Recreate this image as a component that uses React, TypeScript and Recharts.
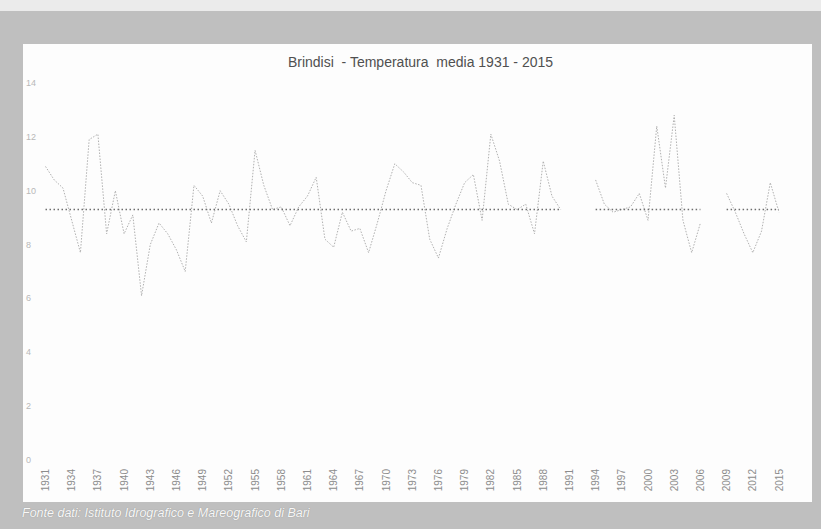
import React from "react";
import { LineChart, Line, XAxis, YAxis } from "recharts";

const years: number[] = [];
for (let y = 1931; y <= 2015; y++) years.push(y);

const temps: (number | null)[] = [
  10.9, 10.4, 10.1, 8.9, 7.7, 11.9, 12.1, 8.4, 10.0, 8.4,
  9.1, 6.1, 8.0, 8.8, 8.4, 7.8, 7.0, 10.2, 9.8, 8.8,
  10.0, 9.5, 8.7, 8.1, 11.5, 10.2, 9.3, 9.4, 8.7, 9.4,
  9.8, 10.5, 8.2, 7.9, 9.2, 8.5, 8.6, 7.7, 8.8, 10.0,
  11.0, 10.7, 10.3, 10.2, 8.2, 7.5, 8.6, 9.5, 10.3, 10.6,
  8.9, 12.1, 11.1, 9.5, 9.3, 9.5, 8.4, 11.1, 9.8, 9.3,
  null, null, null, 10.4, 9.5, 9.2, 9.3, 9.4, 9.9, 8.9,
  12.4, 10.1, 12.8, 8.9, 7.7, 8.8, null, null, 9.9, 9.2,
  8.4, 7.7, 8.5, 10.3, 9.2,
];

const meanValue = 9.3;
const yTicks = [0, 2, 4, 6, 8, 10, 12, 14];

const data = years.map((y, i) => ({
  year: String(y),
  temp: temps[i],
  mean: temps[i] == null ? null : meanValue,
}));

const XTick = (props: any) => {
  const { x, payload } = props;
  return (
    <text
      x={x}
      y={469}
      transform={`rotate(-90, ${x}, 469)`}
      textAnchor="end"
      dominantBaseline="central"
      fontSize={10}
      fill="#8c8c8c"
      fontFamily="Liberation Sans, Arial, sans-serif"
    >
      {payload.value}
    </text>
  );
};

const YTick = (props: any) => {
  const { y, payload } = props;
  return (
    <text
      x={26}
      y={y}
      textAnchor="start"
      dominantBaseline="central"
      fontSize={9}
      fill="#b8b8b8"
      fontFamily="Liberation Sans, Arial, sans-serif"
    >
      {payload.value}
    </text>
  );
};

export default function App() {
  return (
    <div
      style={{
        position: "absolute",
        left: 0,
        top: 0,
        width: 821,
        height: 529,
        background: "#bfbfbf",
        overflow: "hidden",
      }}
    >
      <div
        style={{
          position: "absolute",
          left: 0,
          top: 0,
          width: 821,
          height: 11,
          background: "#ebebeb",
        }}
      />
      <div
        style={{
          position: "absolute",
          left: 23,
          top: 44,
          width: 789,
          height: 458,
          background: "#fdfdfd",
        }}
      />
      <div
        style={{
          position: "absolute",
          left: 0,
          width: 821,
          top: 54,
          textAlign: "center",
          fontFamily: "Liberation Sans, Arial, sans-serif",
          fontSize: 14,
          color: "#505050",
          paddingLeft: 20,
          boxSizing: "border-box",
          whiteSpace: "pre",
        }}
      >
        {"Brindisi  - Temperatura  media 1931 - 2015"}
      </div>
      <div
        style={{
          position: "absolute",
          left: 22,
          top: 506,
          fontFamily: "Liberation Sans, Arial, sans-serif",
          fontStyle: "italic",
          fontSize: 12.5,
          color: "#f8f8f8",
          textShadow: "0 0 1px #888",
        }}
      >
        Fonte dati: Istituto Idrografico e Mareografico di Bari
      </div>
      <div style={{ position: "absolute", left: 0, top: 0 }}>
        <LineChart
          width={821}
          height={529}
          data={data}
          margin={{ top: 83, right: 42, bottom: 29, left: 25.5 }}
        >
          <XAxis
            dataKey="year"
            interval={2}
            height={40}
            axisLine={false}
            tickLine={false}
            tick={<XTick />}
          />
          <YAxis
            width={20}
            domain={[0, 14]}
            ticks={yTicks}
            axisLine={false}
            tickLine={false}
            tick={<YTick />}
          />
          <Line
            type="linear"
            dataKey="temp"
            stroke="#b0b0b0"
            strokeWidth={1}
            strokeDasharray="1.5 1.5"
            dot={false}
            isAnimationActive={false}
          />
          <Line
            type="linear"
            dataKey="mean"
            stroke="#6e6e6e"
            strokeWidth={1.5}
            strokeDasharray="1.5 2.5"
            dot={false}
            isAnimationActive={false}
          />
        </LineChart>
      </div>
    </div>
  );
}
